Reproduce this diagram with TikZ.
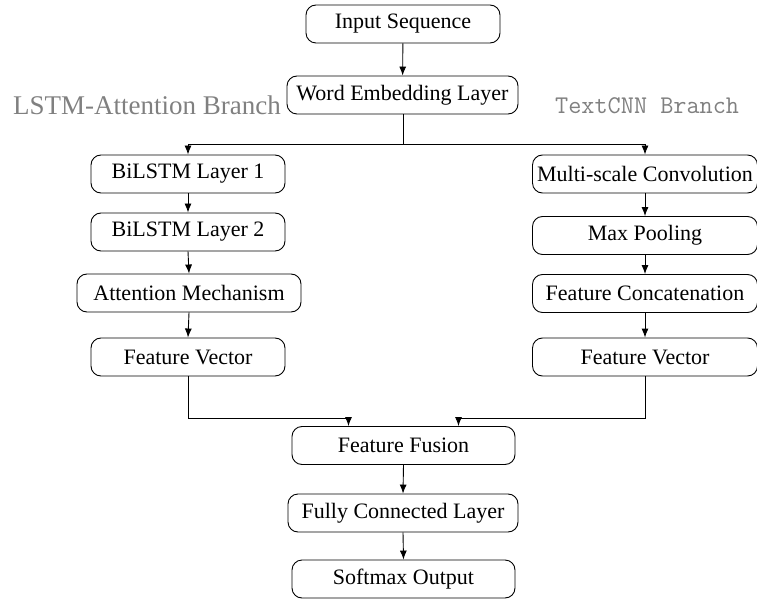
\documentclass[tikz,border=0pt]{standalone}
\usepackage{fontspec}
\setmainfont{Liberation Serif}
\usetikzlibrary{arrows.meta}
\definecolor{branchgray}{RGB}{128,128,128}
\begin{document}
\begin{tikzpicture}[x=1pt,y=1pt,
        block/.style={draw, rounded corners=10pt, line width=0.9pt, minimum height=38pt,
            inner xsep=2pt, font=\fontsize{22}{26}\selectfont},
        flow/.style={line width=0.9pt, -{Latex[length=9pt,width=7pt]}},
        branch/.style={text=branchgray, inner sep=0pt, anchor=base west}]
    \useasboundingbox (0,0) rectangle (757,598);
    \node[block, minimum width=194pt] (input) at (403,574) {Input Sequence};
    \node[block, minimum width=231pt] (embed) at (402.5,503) {Word Embedding Layer};
    \node[branch, font=\fontsize{27}{32}\selectfont] (lstmlabel) at (13,483) {LSTM-Attention Branch};
    \node[branch, font=\fontsize{25.5}{30}\selectfont\ttfamily] (cnnlabel) at (555,484) {TextCNN Branch};
    \node[block, minimum width=194pt] (bilstm1) at (188,424) {BiLSTM Layer 1};
    \node[block, minimum width=194pt] (bilstm2) at (188,366) {BiLSTM Layer 2};
    \node[block, minimum width=224pt] (attn) at (189,305) {Attention Mechanism};
    \node[block, minimum width=194pt] (fvecl) at (188,241) {Feature Vector};
    \node[block, minimum width=225pt] (conv) at (645,424) {Multi-scale Convolution};
    \node[block, minimum width=225pt] (pool) at (645,362.5) {Max Pooling};
    \node[block, minimum width=225pt] (concat) at (645,304.5) {Feature Concatenation};
    \node[block, minimum width=225pt] (fvecr) at (645,241) {Feature Vector};
    \node[block, minimum width=223pt] (fusion) at (403.5,152.5) {Feature Fusion};
    \node[block, minimum width=230pt] (fc) at (403,85) {Fully Connected Layer};
    \node[block, minimum width=223pt] (softmax) at (403.5,19) {Softmax Output};
    \coordinate (split) at (403,454);
    \draw[flow] (input) -- (embed);
    \draw[line width=0.9pt] (embed.south -| split) -- (split);
    \draw[flow] (split) -| (bilstm1.north);
    \draw[flow] (split) -| (conv.north);
    \foreach \a/\b in {bilstm1/bilstm2, bilstm2/attn, attn/fvecl, conv/pool, pool/concat,
            concat/fvecr, fusion/fc, fc/softmax} {
        \draw[flow] (\a.south) -- (\b.north);
    }
    \draw[flow] (fvecl.south) -- ++(0,-42) -| ([xshift=-55pt]fusion.north);
    \draw[flow] (fvecr.south) -- ++(0,-42) -| ([xshift=55pt]fusion.north);
\end{tikzpicture}
\end{document}
